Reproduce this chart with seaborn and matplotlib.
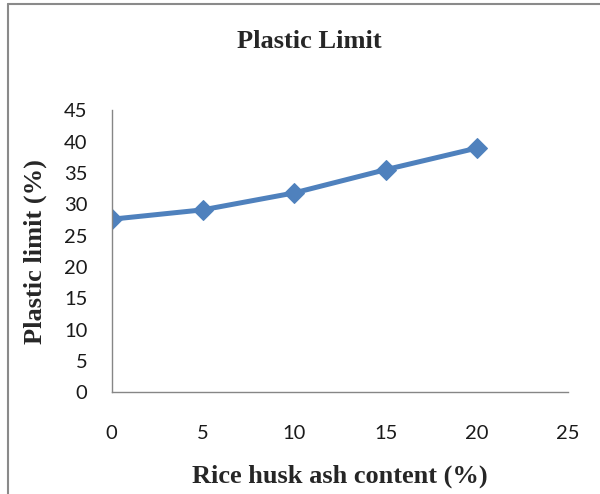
import pandas as pd
import matplotlib.pyplot as plt
import seaborn as sns
from matplotlib.lines import Line2D

# data
rha_content = [0, 5, 10, 15, 20]
plastic_limit = [27.6, 29.1, 31.8, 35.5, 38.95]

df = pd.DataFrame({"rha": rha_content, "pl": plastic_limit})

sns.set_style("white")
plt.rcParams['font.family'] = ['Lato', 'DejaVu Sans']

fig = plt.figure(figsize=(6, 4.94), dpi=100)
ax = fig.add_axes([0.186, 0.206, 0.761, 0.571])

sns.lineplot(x="rha", y="pl", data=df, ax=ax, color="#4F81BD",
             linewidth=3.6, marker="D", markersize=10,
             markeredgecolor="#4F81BD")

ax.set_xlim(0, 25)
ax.set_ylim(0, 45)
ax.set_xticks(range(0, 26, 5))
ax.set_yticks(range(0, 46, 5))

for side in ["top", "right"]:
    ax.spines[side].set_visible(False)
for side in ["left", "bottom"]:
    ax.spines[side].set_color("#868686")
    ax.spines[side].set_linewidth(1)

ax.tick_params(axis="both", direction="out", length=5.5, width=1,
               color="#868686", labelsize=14.5, labelcolor="#1a1a1a")
ax.tick_params(axis="y", pad=12)
ax.tick_params(axis="x", pad=18)

ax.set_xlabel("Rice husk ash content (%)", family="Liberation Serif",
              fontweight="bold", fontsize=19)
ax.set_ylabel("Plastic limit (%)", family="Liberation Serif",
              fontweight="bold", fontsize=19)
ax.xaxis.set_label_coords(0.5, -0.256)
ax.yaxis.set_label_coords(-0.142, 0.5)
fig.text(0.515, 0.915, "Plastic Limit", family="Liberation Serif",
         fontweight="bold", fontsize=19, ha="center", va="center")

# chart-area frame (only left and top edges visible in the crop)
fig.add_artist(Line2D([8 / 600, 8 / 600], [0, 1 - 4 / 494],
                      color="#8a8a8a", linewidth=1.5))
fig.add_artist(Line2D([8 / 600, 1], [1 - 4 / 494, 1 - 4 / 494],
                      color="#8a8a8a", linewidth=1.5))

plt.savefig("out.png", dpi=100)
